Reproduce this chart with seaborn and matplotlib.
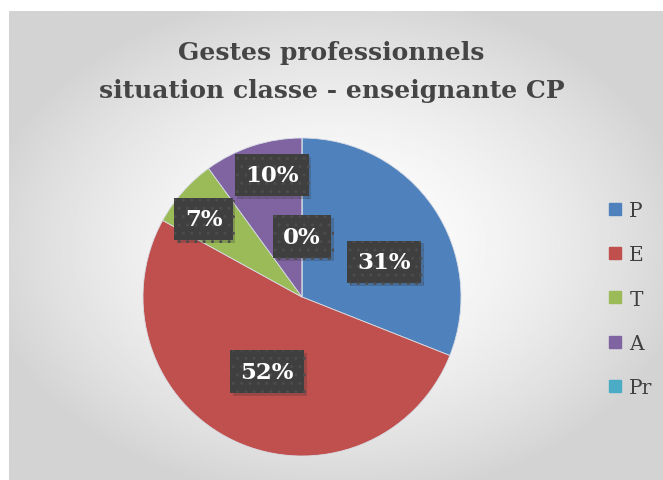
import numpy as np
import matplotlib
matplotlib.use("Agg")
import matplotlib.pyplot as plt
import seaborn as sns
from matplotlib.lines import Line2D
import matplotlib.patheffects as pe

sns.set_style("white")
plt.rcParams['font.family'] = ['DejaVu Serif']

# data
categories = ["P", "E", "T", "A", "Pr"]
values = [31, 52, 7, 10, 0]
labels = ["31%", "52%", "7%", "10%", "0%"]
colors = ["#4F81BD", "#C0504D", "#9BBB59", "#8064A2", "#4BACC6"]
title_lines = ["Gestes professionnels", "situation classe - enseignante CP"]

# label placement (excel best fit), fraction of radius + angle nudge (deg)
label_dist = [0.56, 0.52, 0.79, 0.79, 0.38]
label_nudge = [11, 0, -3, 4, 0]

W, H = 663, 481
fig = plt.figure(figsize=(W / 100, H / 100), dpi=100)

# chart area background with radial gradient
x0, y1 = 9 / W, 1 - 12 / H
bg = fig.add_axes([x0, 0, 1 - x0, y1])
yy, xx = np.mgrid[-1:1:300j, -1:1:400j]
r = np.sqrt(xx ** 2 + yy ** 2) / np.sqrt(2)
shade = 1.0 - 0.17 * np.clip(r * 1.3, 0, 1) ** 1.6
bg.imshow(shade, cmap="gray", vmin=0, vmax=1, aspect="auto", extent=[0, 1, 0, 1])
bg.set_axis_off()

# pie axes: center (302, 298), radius ~159 px
cx, cy, rad = 302, 298, 159
ax = fig.add_axes([(cx - rad) / W, 1 - (cy + rad) / H, 2 * rad / W, 2 * rad / H])
wedges, _ = ax.pie(values, colors=colors, startangle=90, counterclock=False,
                   wedgeprops=dict(linewidth=0.6, edgecolor="#d8dde6"))
ax.set_xlim(-1, 1)
ax.set_ylim(-1, 1)
ax.set_aspect("equal")
ax.set_axis_off()

for w, lab, d, nudge in zip(wedges, labels, label_dist, label_nudge):
    mid = np.deg2rad((w.theta1 + w.theta2) / 2 - nudge)
    ax.text(d * np.cos(mid), d * np.sin(mid), lab, ha="center", va="center",
            color="white", fontsize=16.5, fontweight="bold", zorder=5,
            bbox=dict(boxstyle="square,pad=0.45", fc="#3f3f3f", ec="#4c4c4c",
                      lw=0, hatch="..",
                      path_effects=[pe.SimplePatchShadow(offset=(2, -2), alpha=0.25,
                                                         shadow_rgbFace="#333333"),
                                    pe.Normal()]))

# title
for i, line in enumerate(title_lines):
    fig.text(0.5, 1 - (53 + 38 * i) / H, line, ha="center", va="center",
             fontsize=18, fontweight="bold", color="#454545")

# legend
handles = [Line2D([0], [0], marker="s", linestyle="none", markersize=9,
                  markerfacecolor=c, markeredgecolor=c) for c in colors]
fig.legend(handles, categories, loc="center left", bbox_to_anchor=(587 / W, 1 - 300 / H),
           frameon=False, fontsize=14.5, labelspacing=1.25, handletextpad=0.2,
           handlelength=1.0, labelcolor="#404040")

fig.savefig("out.png", dpi=100)
